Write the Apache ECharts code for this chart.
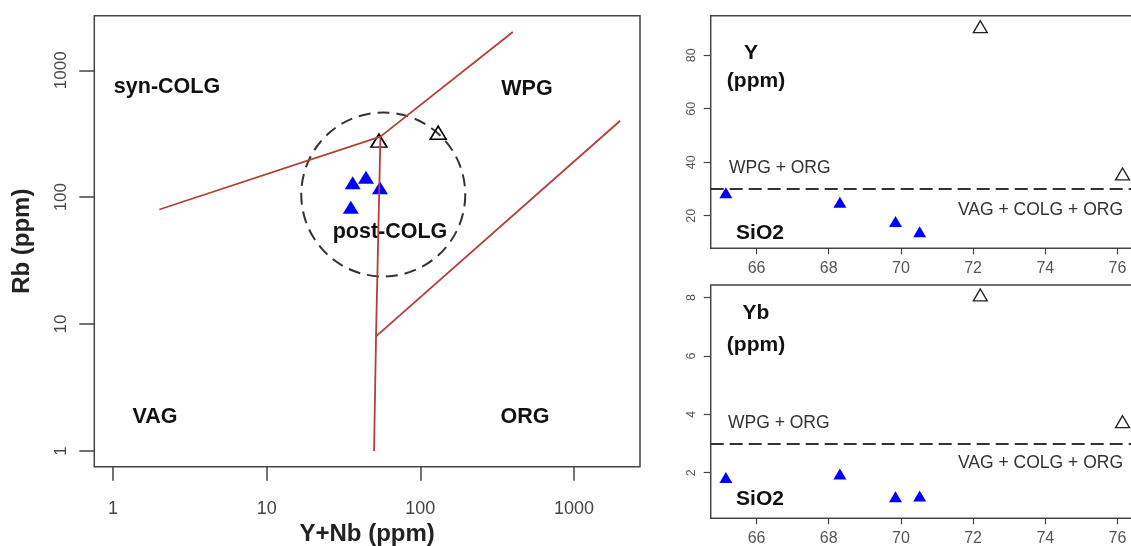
<!DOCTYPE html>
<html>
<head>
<meta charset="utf-8">
<script src="https://cdn.jsdelivr.net/npm/echarts@6/dist/echarts.min.js"></script>
<style>
  html, body { margin: 0; padding: 0; background: #fff; }
  #chart { width: 1131px; height: 546px; }
</style>
</head>
<body>
<div id="chart"></div>
<script>
// tick positions
var ynbTicks = [1, 10, 100, 1000];
var rbTicks = [1, 10, 100, 1000];
var sio2Ticks = [66, 68, 70, 72, 74, 76];
var yTicks = [20, 40, 60, 80];
var ybTicks = [2, 4, 6, 8];

// Pearce discrimination boundaries (Y+Nb, Rb)
var syncolgLine = [[2, 80], [55, 300], [400, 2000]];
var vagOrgLine = [[55, 300], [51.5, 8], [50, 1]];
var orgWpgLine = [[51.5, 8], [2000, 400]];
var postColgCentre = [[57.4, 105]];

// samples on Rb vs Y+Nb
var ynbBlue = [36.3, 44.3, 54.6, 35.3];
var rbBlue = [130, 143.5, 118.8, 83.3];
var ynbOpen = [53.8, 130.8];
var rbOpen = [279, 322];

// samples against SiO2
var sio2Blue = [65.15, 68.31, 69.85, 70.52];
var yBlue = [28.6, 25.0, 17.8, 14.0];
var ybBlue = [1.84, 1.96, 1.18, 1.20];
var sio2Open = [72.2, 76.14];
var yOpen = [90.7, 35.6];
var ybOpen = [8.09, 3.75];
var yLimit = 30;
var ybLimit = 3;

function pairs(a, b) {
    return a.map(function (v, i) { return [v, b[i]]; });
}

var FONT = '"Liberation Sans", Arial, Helvetica, sans-serif';
var RED = '#b53d3a';
var BOX = '#444';

function boxAxis(grid, min, max, ticks, opt) {
    return Object.assign({
        gridIndex: grid,
        min: min,
        max: max,
        scale: true,
        axisLine: { show: false },
        splitLine: { show: false },
        axisTick: { length: 6, customValues: ticks, lineStyle: { color: BOX, width: 1.2 } },
        axisLabel: {
            customValues: ticks, fontSize: 16, color: '#555', fontFamily: FONT, margin: 12,
            formatter: function (v) { return String(Math.round(v)); }
        }
    }, opt || {});
}

function txt(x, y, text, size, weight, align, color) {
    return {
        type: 'text', x: x, y: y, silent: true,
        style: {
            text: text, fill: color || '#111', align: align || 'center', verticalAlign: 'middle',
            font: (weight || 'bold') + ' ' + size + 'px ' + FONT
        }
    };
}

var chart = echarts.init(document.getElementById('chart'));
var option = {
    animation: false,
    backgroundColor: '#fff',
    grid: [
        { left: 94.3, top: 15.7, width: 545.7, height: 451, show: true, borderColor: BOX, borderWidth: 1.5,
          containLabel: false, outerBoundsMode: 'none' },
        { left: 710.7, top: 15.7, width: 422.3, height: 232.6, show: true, borderColor: BOX, borderWidth: 1.5,
          containLabel: false, outerBoundsMode: 'none' },
        { left: 710.7, top: 285, width: 422.3, height: 233.3, show: true, borderColor: BOX, borderWidth: 1.5,
          containLabel: false, outerBoundsMode: 'none' }
    ],
    xAxis: [
        boxAxis(0, 0.755, 2692, ynbTicks, {
            type: 'log',
            name: 'Y+Nb (ppm)', nameLocation: 'middle', nameGap: 54,
            nameTextStyle: { fontSize: 24, fontWeight: 'bold', color: '#222', fontFamily: FONT },
            axisTick: { length: 14, customValues: ynbTicks, lineStyle: { color: BOX, width: 1.5 } },
            axisLabel: {
                customValues: ynbTicks, fontSize: 18, color: '#444', fontFamily: FONT, margin: 33,
                formatter: function (v) { return String(Math.round(v)); }
            }
        }),
        boxAxis(1, 64.73, 76.43, sio2Ticks, { type: 'value' }),
        boxAxis(2, 64.73, 76.43, sio2Ticks, { type: 'value' })
    ],
    yAxis: [
        boxAxis(0, 0.752, 2692, rbTicks, {
            type: 'log',
            name: 'Rb (ppm)', nameLocation: 'middle', nameGap: 60, nameRotate: 90,
            nameTextStyle: { fontSize: 24, fontWeight: 'bold', color: '#222', fontFamily: FONT },
            axisTick: { length: 15, customValues: rbTicks, lineStyle: { color: BOX, width: 1.5 } },
            axisLabel: {
                customValues: rbTicks, fontSize: 17, color: '#444', fontFamily: FONT, margin: 24, rotate: 90,
                formatter: function (v) { return String(Math.round(v)); }
            }
        }),
        boxAxis(1, 7.8, 94.8, yTicks, {
            type: 'value',
            axisTick: { length: 7, customValues: yTicks, lineStyle: { color: BOX, width: 1.2 } },
            axisLabel: { customValues: yTicks, fontSize: 12.5, color: '#555', fontFamily: FONT, margin: 13, rotate: 90 }
        }),
        boxAxis(2, 0.44, 8.43, ybTicks, {
            type: 'value',
            axisTick: { length: 7, customValues: ybTicks, lineStyle: { color: BOX, width: 1.2 } },
            axisLabel: { customValues: ybTicks, fontSize: 12.5, color: '#555', fontFamily: FONT, margin: 13, rotate: 90 }
        })
    ],
    series: [
        { type: 'line', xAxisIndex: 0, yAxisIndex: 0, data: syncolgLine, symbol: 'none', silent: true,
          lineStyle: { color: RED, width: 1.8 } },
        { type: 'line', xAxisIndex: 0, yAxisIndex: 0, data: vagOrgLine, symbol: 'none', silent: true,
          lineStyle: { color: RED, width: 1.8 } },
        { type: 'line', xAxisIndex: 0, yAxisIndex: 0, data: orgWpgLine, symbol: 'none', silent: true,
          lineStyle: { color: RED, width: 1.8 } },
        { type: 'scatter', xAxisIndex: 0, yAxisIndex: 0, data: postColgCentre, symbol: 'circle', symbolSize: 164,
          silent: true,
          itemStyle: { color: 'rgba(0,0,0,0)', borderColor: '#333', borderWidth: 2, borderType: [12, 7], opacity: 1 } },
        { type: 'scatter', xAxisIndex: 0, yAxisIndex: 0, data: pairs(ynbBlue, rbBlue), symbol: 'triangle',
          symbolSize: [16, 13], itemStyle: { color: '#0000ff', opacity: 1 } },
        { type: 'scatter', xAxisIndex: 0, yAxisIndex: 0, data: pairs(ynbOpen, rbOpen), symbol: 'triangle',
          symbolSize: [16, 13], itemStyle: { color: 'rgba(0,0,0,0)', borderColor: '#000', borderWidth: 1.6, opacity: 1 } },

        { type: 'scatter', xAxisIndex: 1, yAxisIndex: 1, data: pairs(sio2Blue, yBlue), symbol: 'triangle',
          symbolSize: [13, 11], itemStyle: { color: '#0000ff', opacity: 1 },
          markLine: { silent: true, symbol: 'none', label: { show: false },
                      lineStyle: { color: '#333', width: 2, type: [13, 6] }, data: [{ yAxis: yLimit }] } },
        { type: 'scatter', xAxisIndex: 1, yAxisIndex: 1, data: pairs(sio2Open, yOpen), symbol: 'triangle',
          symbolSize: [14, 12], itemStyle: { color: 'rgba(0,0,0,0)', borderColor: '#222', borderWidth: 1.3, opacity: 1 } },

        { type: 'scatter', xAxisIndex: 2, yAxisIndex: 2, data: pairs(sio2Blue, ybBlue), symbol: 'triangle',
          symbolSize: [13, 11], itemStyle: { color: '#0000ff', opacity: 1 },
          markLine: { silent: true, symbol: 'none', label: { show: false },
                      lineStyle: { color: '#333', width: 2, type: [13, 6] }, data: [{ yAxis: ybLimit }] } },
        { type: 'scatter', xAxisIndex: 2, yAxisIndex: 2, data: pairs(sio2Open, ybOpen), symbol: 'triangle',
          symbolSize: [14, 12], itemStyle: { color: 'rgba(0,0,0,0)', borderColor: '#222', borderWidth: 1.3, opacity: 1 } }
    ],
    graphic: [
        txt(167, 87, 'syn-COLG', 21.5),
        txt(527, 89, 'WPG', 21.5),
        txt(390, 232, 'post-COLG', 21.5),
        txt(155, 417, 'VAG', 21.5),
        txt(525, 417, 'ORG', 21.5),

        txt(751, 53, 'Y', 21),
        txt(756, 81, '(ppm)', 21),
        txt(729, 168, 'WPG + ORG', 17.5, 'normal', 'left', '#333'),
        txt(1123, 210, 'VAG + COLG + ORG', 17.5, 'normal', 'right', '#333'),
        txt(760, 233, 'SiO2', 21),

        txt(756, 313, 'Yb', 21),
        txt(756, 345, '(ppm)', 21),
        txt(728, 423, 'WPG + ORG', 17.5, 'normal', 'left', '#333'),
        txt(1123, 463, 'VAG + COLG + ORG', 17.5, 'normal', 'right', '#333'),
        txt(760, 499, 'SiO2', 21)
    ]
};
chart.setOption(option);
</script>
</body>
</html>
